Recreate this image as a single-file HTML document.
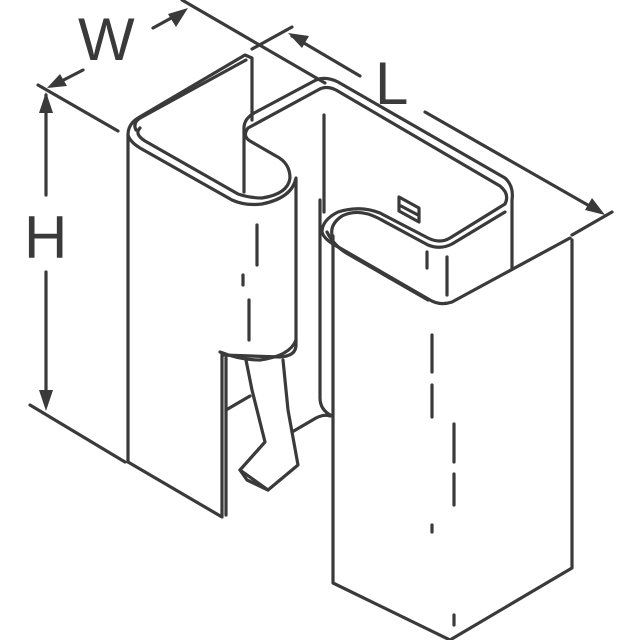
<!DOCTYPE html>
<html><head><meta charset="utf-8"><style>
html,body{margin:0;padding:0;background:#fff;width:640px;height:640px;overflow:hidden}
</style></head><body>
<svg width="640" height="640" viewBox="0 0 640 640" xmlns="http://www.w3.org/2000/svg">
<g fill="none" stroke="#3a3a3a" stroke-width="3.2" stroke-linecap="round" stroke-linejoin="round">
<!-- dimension W -->
<line x1="38" y1="85" x2="118" y2="131"/>
<line x1="182" y1="0" x2="325" y2="83"/>
<line x1="83" y1="70" x2="52" y2="86"/>
<line x1="153" y1="28" x2="184" y2="11"/>
<!-- dimension L -->
<line x1="252" y1="49" x2="292" y2="27"/>
<line x1="292" y1="36" x2="360" y2="76"/>
<line x1="425" y1="112" x2="600" y2="212"/>
<line x1="572" y1="235" x2="612" y2="212"/>
<!-- dimension H -->
<line x1="46" y1="95" x2="46" y2="195"/>
<line x1="46" y1="272" x2="46" y2="405"/>
<line x1="30" y1="405" x2="125" y2="462"/>
<!-- left piece -->
<path d="M128 462 V135 Q128 124 138 118 L245 55 L252 58 V120"/>
<path d="M136 130 Q132 122 142 117 L246 60"/>
<path d="M128 135 Q130 142 140 148 L232 200 Q245 206 262 204 Q292 198 296 178 V345 Q296 356 280 357 L222 355"/>
<path d="M140 128 Q134 134 145 141 L238 194 Q250 198 262 198 Q288 194 290 178 Q290 163 276 156 L250 141 Q242 136 248 128 L318 90 Q326 85 336 90 L500 186 Q510 194 505 204 L450 238 Q440 244 428 238 L380 213 Q360 205 338 212 Q322 220 322 232 Q324 240 340 248 L430 300 Q440 306 452 302 L570 238"/>
<path d="M244 192 V128 Q244 118 256 112 L316 80 Q326 76 338 82 L505 178 Q514 186 512 200 V268"/>
<path d="M332 235 Q330 224 342 216 Q358 208 378 218 L428 245 Q440 250 452 244 L505 212"/>
<path d="M327 232 Q334 246 348 254 L428 300"/>
<line x1="324" y1="115" x2="324" y2="212"/>
<!-- right panel -->
<path d="M333 236 V583 L450 640"/>
<path d="M450 640 L572 568 V240"/>
<path d="M222 355 V517 L128 462"/>
<path d="M226 358 V515"/>
<!-- slot region -->
<path d="M220 352 Q240 360 260 360 Q290 356 296 340"/>
<path d="M246 360 L252 390 L265 442 L240 470 L247 480 L268 490 L298 465 L288 410 L283 360"/>
<path d="M240 470 L268 490"/>
<path d="M226 410 L250 396"/>
<path d="M292 432 L316 418 Q324 414 330 416"/>
<path d="M320 200 V398 Q320 410 332 416"/>
<!-- small square -->
<path d="M399 197 L419 208 V222 L399 211 Z"/>
<line x1="401" y1="206" x2="418" y2="215"/>
<!-- dash center lines -->
<line x1="257" y1="225" x2="257" y2="265"/>
<line x1="243" y1="275" x2="243" y2="285"/>
<line x1="249" y1="300" x2="249" y2="340"/>
<line x1="427" y1="252" x2="427" y2="268"/>
<line x1="447" y1="257" x2="447" y2="295"/>
<line x1="432" y1="335" x2="432" y2="372"/>
<line x1="432" y1="385" x2="432" y2="417"/>
<line x1="454" y1="424" x2="454" y2="462"/>
<line x1="454" y1="474" x2="454" y2="505"/>
<line x1="432" y1="525" x2="432" y2="532"/>
<line x1="454" y1="615" x2="454" y2="625"/>
</g>
<g fill="#3a3a3a">
<polygon points="188,8 168,14 176,27"/>
<polygon points="47,88 60,74 67,86"/>
<polygon points="288,33 302,48 309,36"/>
<polygon points="605,215 585,210 592,198"/>
<polygon points="46,92 39,113 53,113"/>
<polygon points="46,411 39,390 53,390"/>
</g>
<g fill="#3a3a3a" font-family="Liberation Sans, sans-serif">
<text x="78" y="60" font-size="60">W</text>
<text x="375" y="104" font-size="60">L</text>
<text x="24" y="258" font-size="60">H</text>
</g>
</svg>
</body></html>
